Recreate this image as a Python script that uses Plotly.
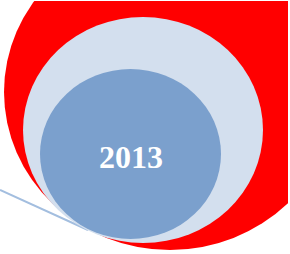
import plotly.graph_objects as go

# Data / content
labels = ["2013"]

# Ellipses (drawing coordinates in a 290x254 canvas, y downward)
ellipses = [
    dict(x0=4, x1=336, y0=-66, y1=250, color="#FF0000"),
    dict(x0=23, x1=263, y0=17, y1=243, color="#D3DFEE"),
    dict(x0=40, x1=221, y0=69, y1=239, color="#7BA0CD"),
]

fig = go.Figure()
fig.add_trace(go.Scatter(x=[0, 88], y=[190, 230], mode="lines",
                         line=dict(color="#A3BEDF", width=2), hoverinfo="skip"))

for e in ellipses:
    fig.add_shape(type="circle", xref="x", yref="y", x0=e["x0"], x1=e["x1"],
                  y0=e["y0"], y1=e["y1"], fillcolor=e["color"],
                  line=dict(width=0), layer="above")

fig.add_annotation(x=130.5, y=157, xref="x", yref="y", text="<b>%s</b>" % labels[0],
                   showarrow=False, font=dict(family="Liberation Serif", size=32, color="white"))

fig.update_layout(
    width=290, height=254,
    margin=dict(l=0, r=2, t=1, b=0),
    paper_bgcolor="white", plot_bgcolor="white",
    showlegend=False,
    xaxis=dict(range=[0, 288], visible=False, fixedrange=True),
    yaxis=dict(range=[254, 1], visible=False, fixedrange=True),
)
fig.write_html("out.html", config={"displayModeBar": False},
               post_script="document.body.style.margin='0';document.body.style.overflow='hidden';")
